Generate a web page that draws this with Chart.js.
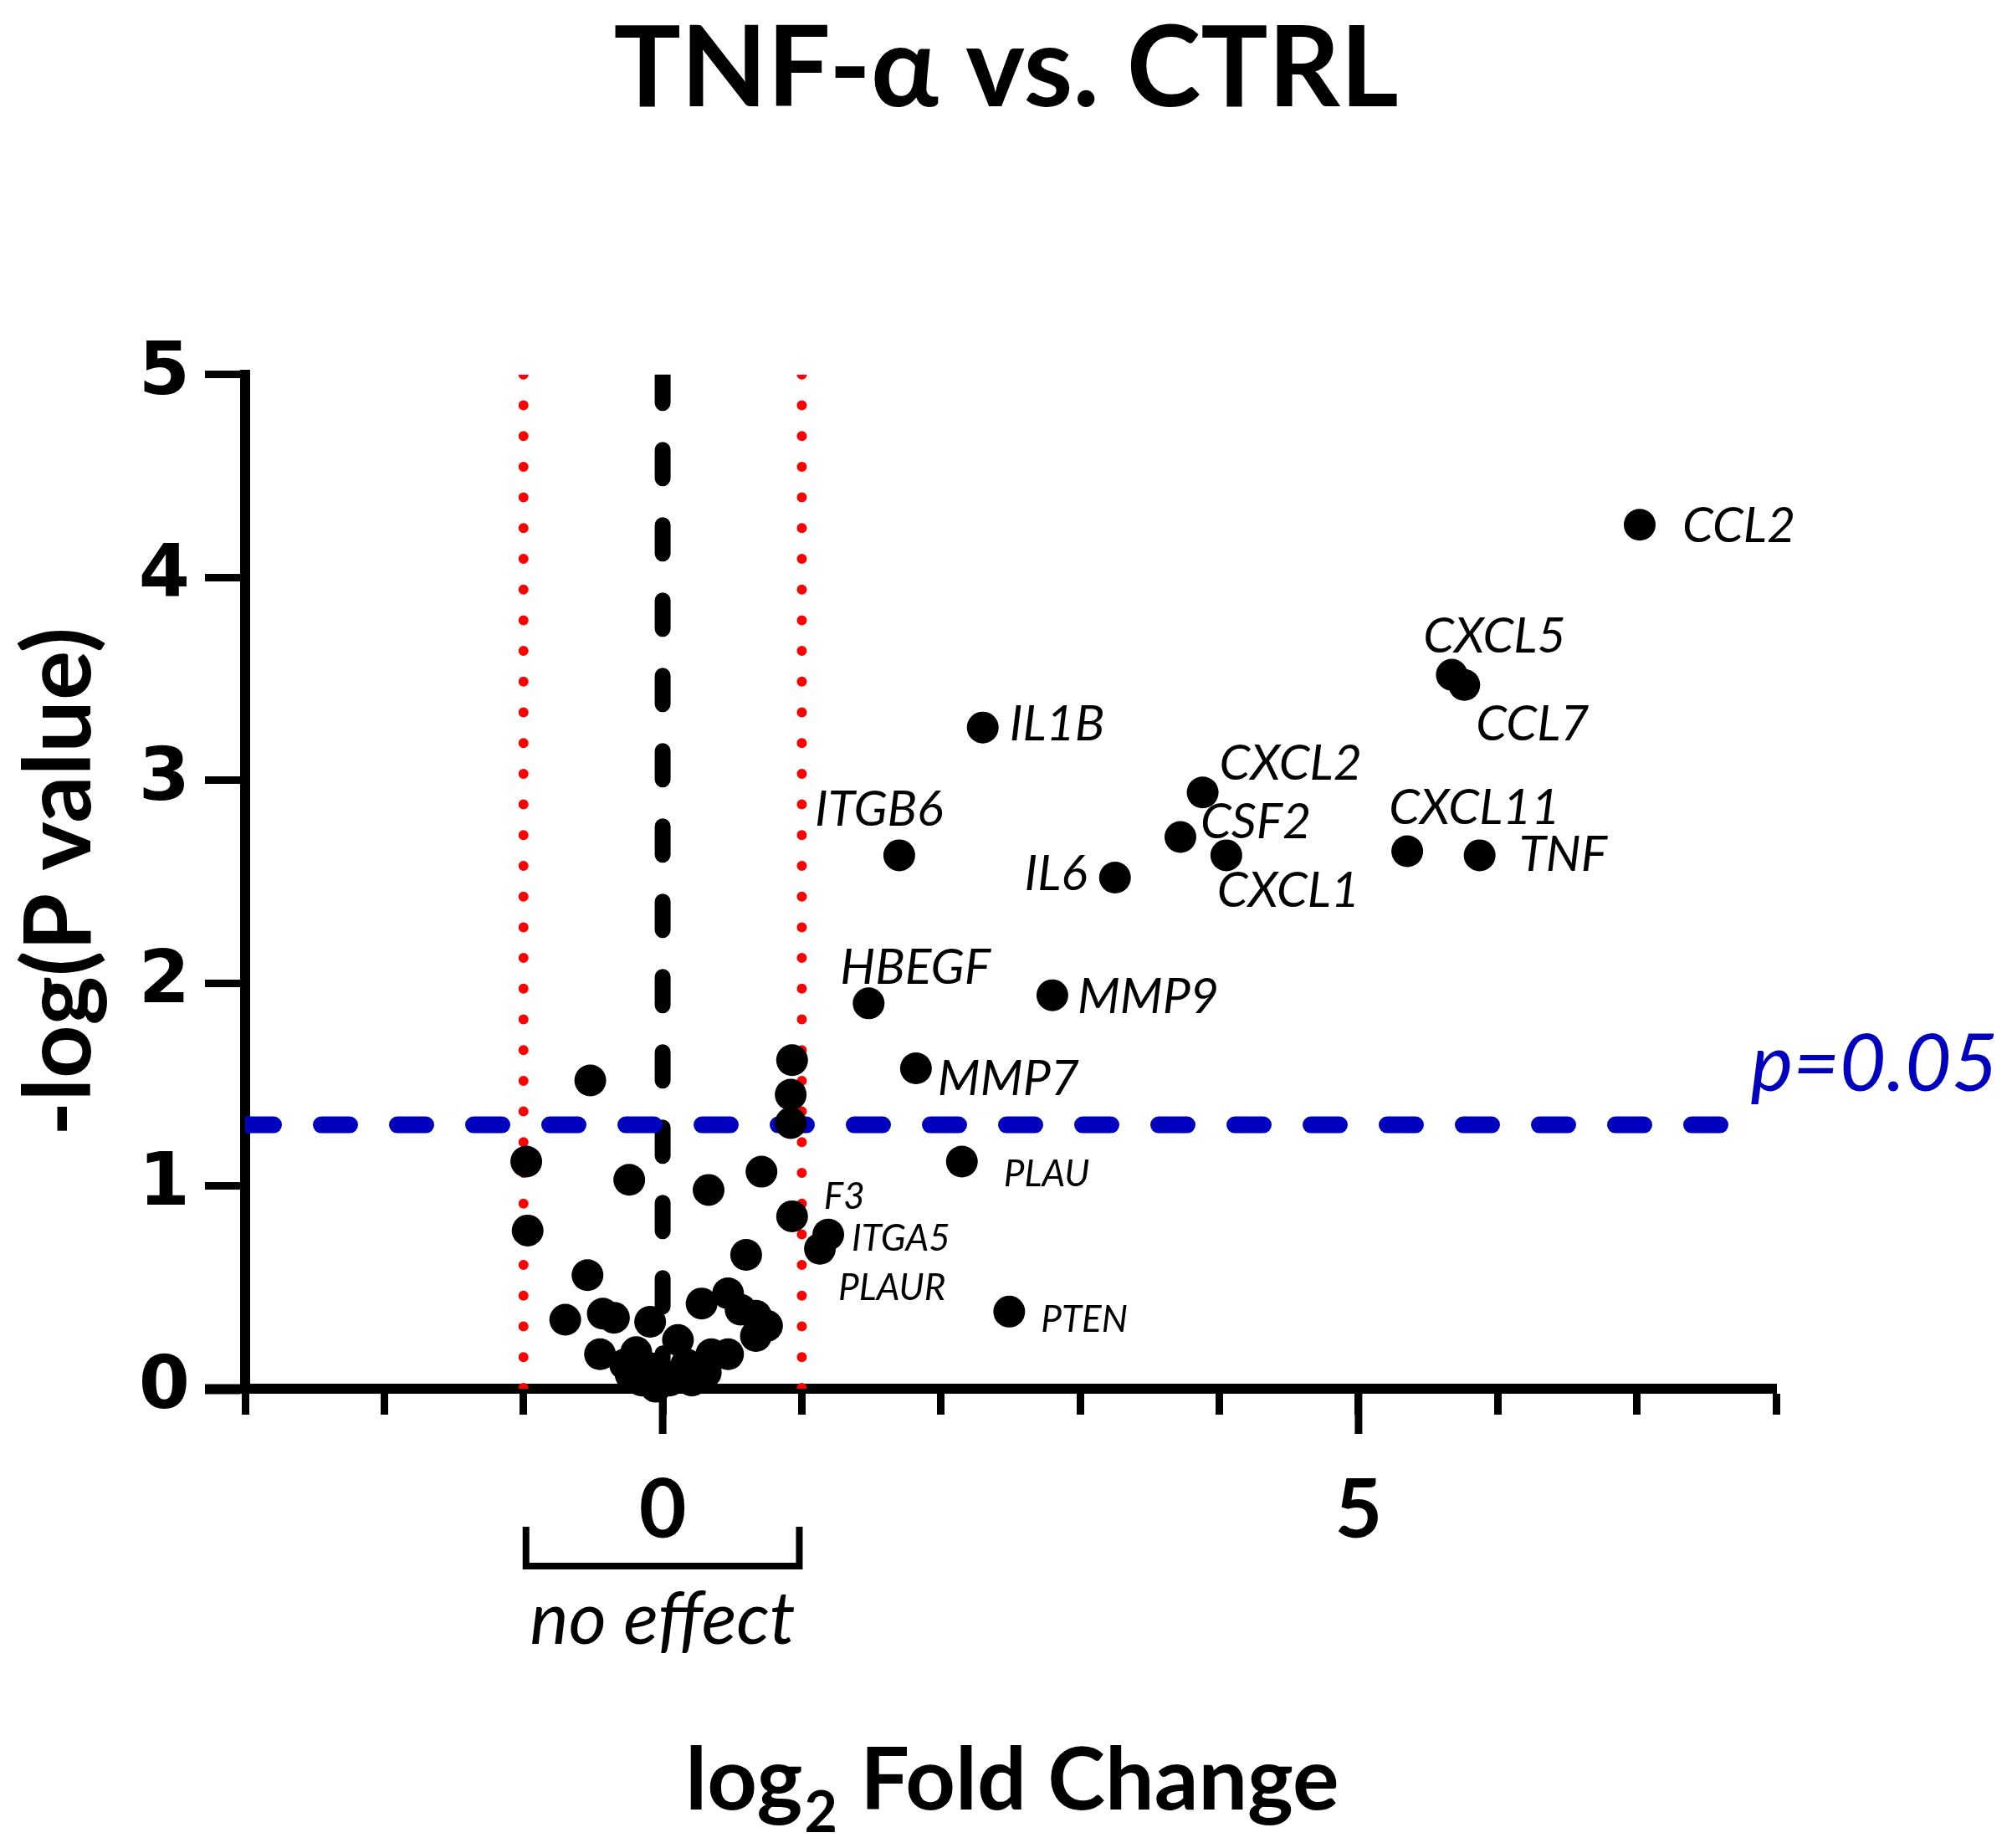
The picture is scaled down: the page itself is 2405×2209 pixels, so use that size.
<!DOCTYPE html>
<html>
<head>
<meta charset="utf-8">
<script src="https://cdn.jsdelivr.net/npm/chart.js@4.4.1/dist/chart.umd.min.js"></script>
<style>
  html, body { margin: 0; padding: 0; background: #fff; }
  canvas { display: block; }
</style>
</head>
<body>
<canvas id="volcano" width="2405" height="2209"></canvas>
<script>
// labelled genes: log2 fold change and -log10(p)
const geneNames = ['CCL2', 'CXCL5', 'CCL7', 'IL1B', 'CXCL2', 'CSF2', 'CXCL11', 'TNF', 'CXCL1', 'ITGB6',
                   'IL6', 'MMP9', 'HBEGF', 'MMP7', 'PLAU', 'F3', 'ITGA5', 'PLAUR', 'PTEN'];
const geneFC   = [7.02, 5.67, 5.76, 2.30, 3.88, 3.72, 5.35, 5.87, 4.05, 1.70,
                  3.25, 2.80, 1.48, 1.82, 2.15, 0.93, 1.19, 1.13, 2.49];
const geneLogP = [4.26, 3.52, 3.47, 3.26, 2.94, 2.72, 2.65, 2.63, 2.63, 2.63,
                  2.52, 1.94, 1.90, 1.58, 1.12, 0.85, 0.76, 0.69, 0.38];

// the rest of the panel (no label)
const otherFC   = [0.93, 0.92, 0.92, -0.52, -0.98, -0.97, -0.24, 0.33, 0.71, 0.60,
                   -0.54, -0.70, -0.43, -0.35, -0.45, -0.09, 0.28, 0.47, 0.56, 0.67,
                   0.75, 0.67, 0.11, 0.47, 0.35, -0.27, -0.23, -0.05, 0.09, 0.31,
                   -0.07, -0.19, 0.17, 0.05, -0.15, 0.21];
const otherLogP = [1.62, 1.45, 1.31, 1.52, 1.12, 0.78, 1.03, 0.98, 1.07, 0.66,
                   0.56, 0.34, 0.37, 0.35, 0.17, 0.33, 0.42, 0.47, 0.39, 0.36,
                   0.31, 0.26, 0.24, 0.17, 0.17, 0.12, 0.07, 0.01, 0.06, 0.08,
                   0.10, 0.18, 0.12, 0.04, 0.04, 0.04];

const xLabelled = [0, 5];
const yTickVals = [0, 1, 2, 3, 4, 5];
const pCutoff = 0.05;
const fcCutoff = 1;
const pLineEnd = 7.66;

const pLine = -Math.log10(pCutoff);
const xMin = -3, xMax = 8;
const yMax = yTickVals[yTickVals.length - 1];

// where each gene name sits relative to its dot (px), and which size
const labelStyle = {
  CCL2: [51, 2, 'left', 'big'], CXCL5: [-34, -46, 'left', 'big'], CCL7: [14, 47, 'left', 'big'],
  CXCL11: [-22, -52, 'left', 'big'], TNF: [47, 0, 'left', 'big'], CXCL2: [20, -34, 'left', 'big'],
  CSF2: [24, -18, 'left', 'big'], CXCL1: [-11, 43, 'left', 'big'], IL1B: [32, -4, 'left', 'big'],
  ITGB6: [-101, -54, 'left', 'big'], IL6: [-33, -4, 'right', 'big'], HBEGF: [-34, -42, 'left', 'big'],
  MMP9: [30, 2, 'left', 'big'], MMP7: [26, 13, 'left', 'big'],
  PLAU: [50, 15, 'left', 'small'], PTEN: [38, 10, 'left', 'small'], F3: [38, -23, 'left', 'small'],
  ITGA5: [28, 5, 'left', 'small'], PLAUR: [22, 47, 'left', 'small']
};

const toPoints = (xs, ys) => xs.map((v, i) => ({x: v, y: ys[i]}));

const annotate = {
  id: 'annotate',
  afterDatasetsDraw(chart) {
    const {ctx, scales: {x, y}} = chart;
    const y0 = y.getPixelForValue(0);
    ctx.save();

    // longer ticks under the labelled values
    ctx.strokeStyle = '#000';
    ctx.lineWidth = 9;
    xLabelled.forEach(v => {
      const px = x.getPixelForValue(v);
      ctx.beginPath();
      ctx.moveTo(px, y0 + 6);
      ctx.lineTo(px, y0 + 54);
      ctx.stroke();
    });

    // gene names
    ctx.fillStyle = '#000';
    ctx.textBaseline = 'middle';
    geneNames.forEach((name, i) => {
      const s = labelStyle[name];
      ctx.font = 'italic ' + (s[3] === 'big' ? 59 : 44) + 'px Lato';
      ctx.textAlign = s[2];
      ctx.fillText(name, x.getPixelForValue(geneFC[i]) + s[0], y.getPixelForValue(geneLogP[i]) + s[1]);
    });

    // p = 0.05 tag
    ctx.fillStyle = '#0000bf';
    ctx.font = 'italic 96px Lato';
    ctx.textAlign = 'left';
    ctx.fillText('p=0.05', x.getPixelForValue(pLineEnd) + 26, y.getPixelForValue(pLine) - 72);

    // "no effect" bracket
    const xl = x.getPixelForValue(-fcCutoff), xr = x.getPixelForValue(fcCutoff);
    ctx.strokeStyle = '#000';
    ctx.lineWidth = 8;
    ctx.beginPath();
    ctx.moveTo(xl + 3, y0 + 165);
    ctx.lineTo(xl + 3, y0 + 212);
    ctx.lineTo(xr - 3, y0 + 212);
    ctx.lineTo(xr - 3, y0 + 165);
    ctx.stroke();
    ctx.fillStyle = '#000';
    ctx.font = 'italic 87px Lato';
    ctx.textAlign = 'center';
    ctx.textBaseline = 'alphabetic';
    ctx.fillText('no effect', x.getPixelForValue(0), y0 + 305);

    // x title with subscript
    const big = 'bold 104px Lato', sub = 'bold 68px Lato';
    ctx.font = big;
    const w1 = ctx.measureText('log').width, w3 = ctx.measureText(' Fold Change').width;
    ctx.font = sub;
    const w2 = ctx.measureText('2').width;
    const tx = (x.left + x.right) / 2 - (w1 + w2 + w3) / 2;
    const base = y0 + 503;
    ctx.textAlign = 'left';
    ctx.font = big;
    ctx.fillText('log', tx, base);
    ctx.font = sub;
    ctx.fillText('2', tx + w1 + 2, base + 27);
    ctx.font = big;
    ctx.fillText(' Fold Change', tx + w1 + w2 + 4, base);
    ctx.restore();
  }
};

new Chart(document.getElementById('volcano'), {
  type: 'scatter',
  data: {
    datasets: [
      {
        label: 'labelled',
        data: toPoints(geneFC, geneLogP),
        backgroundColor: '#000', borderColor: '#000', borderWidth: 0,
        pointRadius: 19, pointHoverRadius: 19, clip: false, order: 0
      },
      {
        label: 'other',
        data: toPoints(otherFC, otherLogP),
        backgroundColor: '#000', borderColor: '#000', borderWidth: 0,
        pointRadius: 19, pointHoverRadius: 19, clip: false, order: 0
      },
      {
        type: 'line', label: 'p=0.05',
        data: [{x: xMin, y: pLine}, {x: pLineEnd, y: pLine}],
        borderColor: '#0000bf', borderWidth: 20, borderDash: [34, 57], borderCapStyle: 'round',
        pointRadius: 0, clip: 0, order: 1
      },
      {
        type: 'line', label: 'zero',
        data: [{x: 0, y: yMax}, {x: 0, y: 0}],
        borderColor: '#000', borderWidth: 19, borderDash: [34, 56], borderCapStyle: 'round',
        pointRadius: 0, clip: 0, order: 2
      },
      {
        type: 'line', label: 'fc low',
        data: [{x: -fcCutoff, y: yMax}, {x: -fcCutoff, y: 0}],
        borderColor: '#ff0000', borderWidth: 12, borderDash: [0, 36.7], borderCapStyle: 'round',
        pointRadius: 0, clip: 0, order: 3
      },
      {
        type: 'line', label: 'fc high',
        data: [{x: fcCutoff, y: yMax}, {x: fcCutoff, y: 0}],
        borderColor: '#ff0000', borderWidth: 12, borderDash: [0, 36.7], borderCapStyle: 'round',
        pointRadius: 0, clip: 0, order: 3
      }
    ]
  },
  options: {
    responsive: false,
    animation: false,
    devicePixelRatio: 1,
    layout: { padding: 0 },
    plugins: {
      legend: { display: false },
      tooltip: { enabled: false },
      title: {
        display: true,
        text: 'TNF-α vs. CTRL',
        color: '#000',
        font: { family: 'Lato', size: 134, weight: 'bold', lineHeight: 1.2 },
        padding: { top: 3, bottom: 284 }
      }
    },
    scales: {
      x: {
        type: 'linear', min: xMin, max: xMax,
        afterFit(s) { s.height = 549; },
        ticks: {
          stepSize: 1, autoSkip: false, maxRotation: 0, color: '#000', padding: 57,
          font: { family: 'Lato', size: 98, weight: 'bold' },
          callback: v => xLabelled.includes(v) ? String(v) : ''
        },
        grid: { display: true, drawOnChartArea: false, drawTicks: true, tickLength: 31, tickWidth: 9, tickColor: '#000' },
        border: { display: true, color: '#000', width: 12 }
      },
      y: {
        type: 'linear', min: 0, max: yMax,
        afterFit(s) { s.width = 293; },
        ticks: {
          stepSize: 1, color: '#000', padding: 18,
          font: { family: 'DejaVu Sans', size: 88, weight: 'bold' },
          callback: v => yTickVals.includes(v) ? String(v) : ''
        },
        grid: {
          display: true, drawOnChartArea: false, drawTicks: true, tickLength: 48,
          tickWidth: c => (c.tick && c.tick.value === 0 ? 12 : 9), tickColor: '#000'
        },
        border: { display: true, color: '#000', width: 12 },
        title: {
          display: true, text: '-log(P value)', color: '#000',
          font: { family: 'Lato', size: 111, weight: 'bold', lineHeight: 1.2 },
          padding: { top: 6, bottom: 0 }
        }
      },
      // empty right-hand strip so the plot ends where the reference does
      yRight: {
        type: 'linear', position: 'right', min: 0, max: yMax,
        afterFit(s) { s.width = 282; },
        ticks: { display: false },
        grid: { display: false },
        border: { display: false }
      }
    }
  },
  plugins: [annotate]
});
</script>
</body>
</html>
